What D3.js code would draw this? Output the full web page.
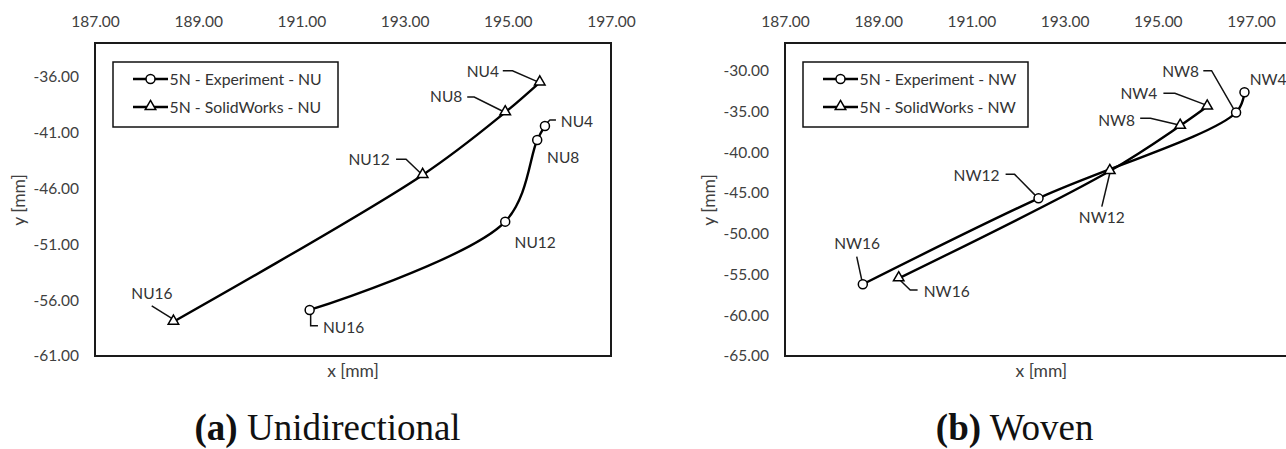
<!DOCTYPE html>
<html>
<head>
<meta charset="utf-8">
<script src="https://cdn.jsdelivr.net/npm/d3@7/dist/d3.min.js"></script>
<style>
  body { margin: 0; background: #fff; }
  .tick text { font-family: Lato, "Open Sans", sans-serif; font-size: 15.5px; fill: #404040; }
  .axisTitle { font-family: Lato, "Open Sans", sans-serif; font-size: 17.5px; fill: #404040; }
  .ptLabel { font-family: Lato, "Open Sans", sans-serif; font-size: 15.5px; fill: #333; }
  .legendText { font-family: Lato, "Open Sans", sans-serif; font-size: 15.8px; fill: #333; }
  .caption { font-family: "Liberation Serif", "Times New Roman", serif; font-size: 37px; fill: #111; }
</style>
</head>
<body>
<script>
(function(){

//pseudo-global variables: values
var nuNames = ["NU4", "NU8", "NU12", "NU16"];
var nuExpX = [195.72, 195.57, 194.95, 191.16];
var nuExpY = [-40.42, -41.68, -48.98, -56.88];
var nuSwX = [195.62, 194.95, 193.35, 188.52];
var nuSwY = [-36.52, -39.20, -44.80, -57.93];

var nwNames = ["NW4", "NW8", "NW12", "NW16"];
var nwExpX = [196.86, 196.68, 192.44, 188.67];
var nwExpY = [-32.65, -35.13, -45.66, -56.20];
var nwSwX = [196.06, 195.48, 193.97, 189.44];
var nwSwY = [-34.40, -36.75, -42.30, -55.47];

var xTicks = [187, 189, 191, 193, 195, 197];
var yTicksNU = [-61, -56, -51, -46, -41, -36];
var yTicksNW = [-65, -60, -55, -50, -45, -40, -35, -30];
var xDomainNU = [187, 197], yDomainNU = [-61, -33];
var xDomainNW = [187, 198], yDomainNW = [-65, -26.6];

var legendNU = ["5N - Experiment - NU", "5N - SolidWorks - NU"];
var legendNW = ["5N - Experiment - NW", "5N - SolidWorks - NW"];

//label placement (pixel offsets from each marker) and leader lines
var nuExpLayout = [
    {dx: 32, dy: -5, lead: [[2, -3], [5, -6], [11, -6]]},
    {dx: 26, dy: 17, lead: null},
    {dx: 30, dy: 21, lead: null},
    {dx: 34, dy: 17, lead: [[1, 4], [1, 15.7], [8.3, 15.7]]}
];
var nuSwLayout = [
    {dx: -57, dy: -10.6, lead: [[-37, -11.6], [-27.3, -11.6], [-3, -1]]},
    {dx: -59, dy: -15.6, lead: [[-38, -15.3], [-31, -15.3], [-3, -1.3]]},
    {dx: -53.6, dy: -15.7, lead: [[-26.6, -15.7], [-16.6, -15.7], [-2, -1.7]]},
    {dx: -21.5, dy: -28.4, lead: [[-21.7, -15.7], [0, -2.4]]}
];
var nwExpLayout = [
    {dx: 23.7, dy: -13, lead: null},
    {dx: -55.5, dy: -40.8, lead: [[-32.8, -41.8], [-24.5, -41.8], [-2.2, -3.2]]},
    {dx: -62, dy: -23.3, lead: [[-32.9, -24], [-23.9, -24], [-1.2, -1]]},
    {dx: -5.7, dy: -41, lead: [[-6.1, -27.6], [-0.7, -2.6]]}
];
var nwSwLayout = [
    {dx: -68.3, dy: -12.7, lead: [[-43.8, -13.4], [-32.3, -13.4], [-1.5, -1.7]]},
    {dx: -63.5, dy: -5.7, lead: [[-40, -7.4], [-29.7, -7.4], [-1, -0.7]]},
    {dx: -8, dy: 46.3, lead: [[-8, 35.7], [0, 2.3]]},
    {dx: 48, dy: 12.7, lead: [[18.9, 11.7], [11.5, 11.7], [1.2, 1.7]]}
];

var fmt = d3.formatLocale({decimal: ".", thousands: ",", grouping: [3], currency: ["", ""], minus: "-"}).format(".2f");

//begin script when window loads
window.onload = setFigure();

function setFigure(){

    var svg = d3.select("body")
        .append("svg")
        .attr("width", 1286)
        .attr("height", 449);

    svg.append("rect")
        .attr("width", 1286)
        .attr("height", 449)
        .attr("fill", "#fff");

    //left panel: unidirectional
    drawPanel(svg, {
        left: 95, right: 611, top: 43, bottom: 356,
        xDomain: xDomainNU, yDomain: yDomainNU, yTicks: yTicksNU,
        yTitleX: 18.5,
        names: nuNames, legend: legendNU,
        exp: {x: nuExpX, y: nuExpY, layout: nuExpLayout},
        sw: {x: nuSwX, y: nuSwY, layout: nuSwLayout}
    });

    //right panel: woven
    drawPanel(svg, {
        left: 785, right: 1297.6, top: 43, bottom: 356,
        xDomain: xDomainNW, yDomain: yDomainNW, yTicks: yTicksNW,
        yTitleX: 708.7,
        names: nwNames, legend: legendNW,
        exp: {x: nwExpX, y: nwExpY, layout: nwExpLayout},
        sw: {x: nwSwX, y: nwSwY, layout: nwSwLayout}
    });

    //captions
    var capA = svg.append("text")
        .attr("class", "caption")
        .attr("x", 327.6)
        .attr("y", 440)
        .attr("text-anchor", "middle");
    capA.append("tspan").attr("font-weight", "bold").text("(a)");
    capA.append("tspan").text(" Unidirectional");

    var capB = svg.append("text")
        .attr("class", "caption")
        .attr("x", 1014.7)
        .attr("y", 440)
        .attr("text-anchor", "middle");
    capB.append("tspan").attr("font-weight", "bold").text("(b)");
    capB.append("tspan").text(" Woven");
};

function drawPanel(svg, p){

    var x = d3.scaleLinear().domain(p.xDomain).range([p.left, p.right]);
    var y = d3.scaleLinear().domain(p.yDomain).range([p.bottom, p.top]);

    //x tick labels sit above the plot
    svg.append("g")
        .attr("class", "axis")
        .attr("transform", "translate(0," + p.top + ")")
        .call(d3.axisTop(x).tickValues(xTicks).tickSize(0).tickPadding(16).tickFormat(fmt))
        .call(function(g){ g.select(".domain").remove(); });

    svg.append("g")
        .attr("class", "axis")
        .attr("transform", "translate(" + p.left + ",0)")
        .call(d3.axisLeft(y).tickValues(p.yTicks).tickSize(0).tickPadding(16).tickFormat(fmt))
        .call(function(g){ g.select(".domain").remove(); });

    //plot frame
    svg.append("rect")
        .attr("x", p.left)
        .attr("y", p.top)
        .attr("width", p.right - p.left)
        .attr("height", p.bottom - p.top)
        .attr("fill", "none")
        .attr("stroke", "#1a1a1a")
        .attr("stroke-width", 2);

    //axis titles
    svg.append("text")
        .attr("class", "axisTitle")
        .attr("x", (p.left + p.right) / 2)
        .attr("y", 377)
        .attr("text-anchor", "middle")
        .text("x [mm]");

    svg.append("text")
        .attr("class", "axisTitle")
        .attr("transform", "translate(" + (p.yTitleX + 6) + ",200) rotate(-90)")
        .attr("text-anchor", "middle")
        .text("y [mm]");

    //smoothed line like the spreadsheet's scatter smoothing
    var line = d3.line()
        .x(function(d){ return x(d[0]); })
        .y(function(d){ return y(d[1]); })
        .curve(d3.curveCatmullRom.alpha(0.5));

    var series = [
        {pts: d3.zip(p.exp.x, p.exp.y), layout: p.exp.layout, marker: "circle"},
        {pts: d3.zip(p.sw.x, p.sw.y), layout: p.sw.layout, marker: "triangle"}
    ];

    var clip = "clip" + p.left;
    svg.append("clipPath").attr("id", clip)
        .append("rect")
        .attr("x", p.left).attr("y", p.top)
        .attr("width", p.right - p.left).attr("height", p.bottom - p.top);

    series.forEach(function(s){
        svg.append("path")
            .attr("d", line(s.pts))
            .attr("fill", "none")
            .attr("stroke", "#000")
            .attr("stroke-width", 2.4)
            .attr("clip-path", "url(#" + clip + ")");
    });

    //leader lines and point labels
    series.forEach(function(s){
        s.pts.forEach(function(d, i){
            var px = x(d[0]), py = y(d[1]), l = s.layout[i];
            if (l.lead){
                svg.append("path")
                    .attr("d", d3.line()(l.lead.map(function(o){ return [px + o[0], py + o[1]]; })))
                    .attr("fill", "none")
                    .attr("stroke", "#111")
                    .attr("stroke-width", 1.5);
            };
            svg.append("text")
                .attr("class", "ptLabel")
                .attr("x", px + l.dx)
                .attr("y", py + l.dy)
                .attr("dy", "0.36em")
                .attr("text-anchor", "middle")
                .text(p.names[i]);
        });
    });

    //markers on top
    series.forEach(function(s){
        s.pts.forEach(function(d){
            drawMarker(svg, s.marker, x(d[0]), y(d[1]));
        });
    });

    //legend
    var lg = svg.append("g")
        .attr("transform", "translate(" + (p.left + 18) + "," + (p.top + 19) + ")");

    lg.append("rect")
        .attr("width", 225)
        .attr("height", 65)
        .attr("fill", "#fff")
        .attr("stroke", "#111")
        .attr("stroke-width", 1.5);

    ["circle", "triangle"].forEach(function(m, i){
        var ly = 17 + i * 28;
        lg.append("line")
            .attr("x1", 20).attr("x2", 55)
            .attr("y1", ly).attr("y2", ly)
            .attr("stroke", "#000")
            .attr("stroke-width", 2.4);
        drawMarker(lg, m, 37.5, ly);
        lg.append("text")
            .attr("class", "legendText")
            .attr("x", 56.5)
            .attr("y", ly)
            .attr("dy", "0.36em")
            .text(p.legend[i]);
    });
};

function drawMarker(g, type, cx, cy){
    if (type == "circle"){
        g.append("circle")
            .attr("cx", cx).attr("cy", cy).attr("r", 4.5)
            .attr("fill", "#fff")
            .attr("stroke", "#000")
            .attr("stroke-width", 1.5);
    } else {
        g.append("path")
            .attr("d", d3.symbol().type(d3.symbolTriangle).size(48)())
            .attr("transform", "translate(" + cx + "," + (cy - 0.5) + ")")
            .attr("fill", "#fff")
            .attr("stroke", "#000")
            .attr("stroke-width", 1.5);
    };
};

})();
</script>
</body>
</html>
